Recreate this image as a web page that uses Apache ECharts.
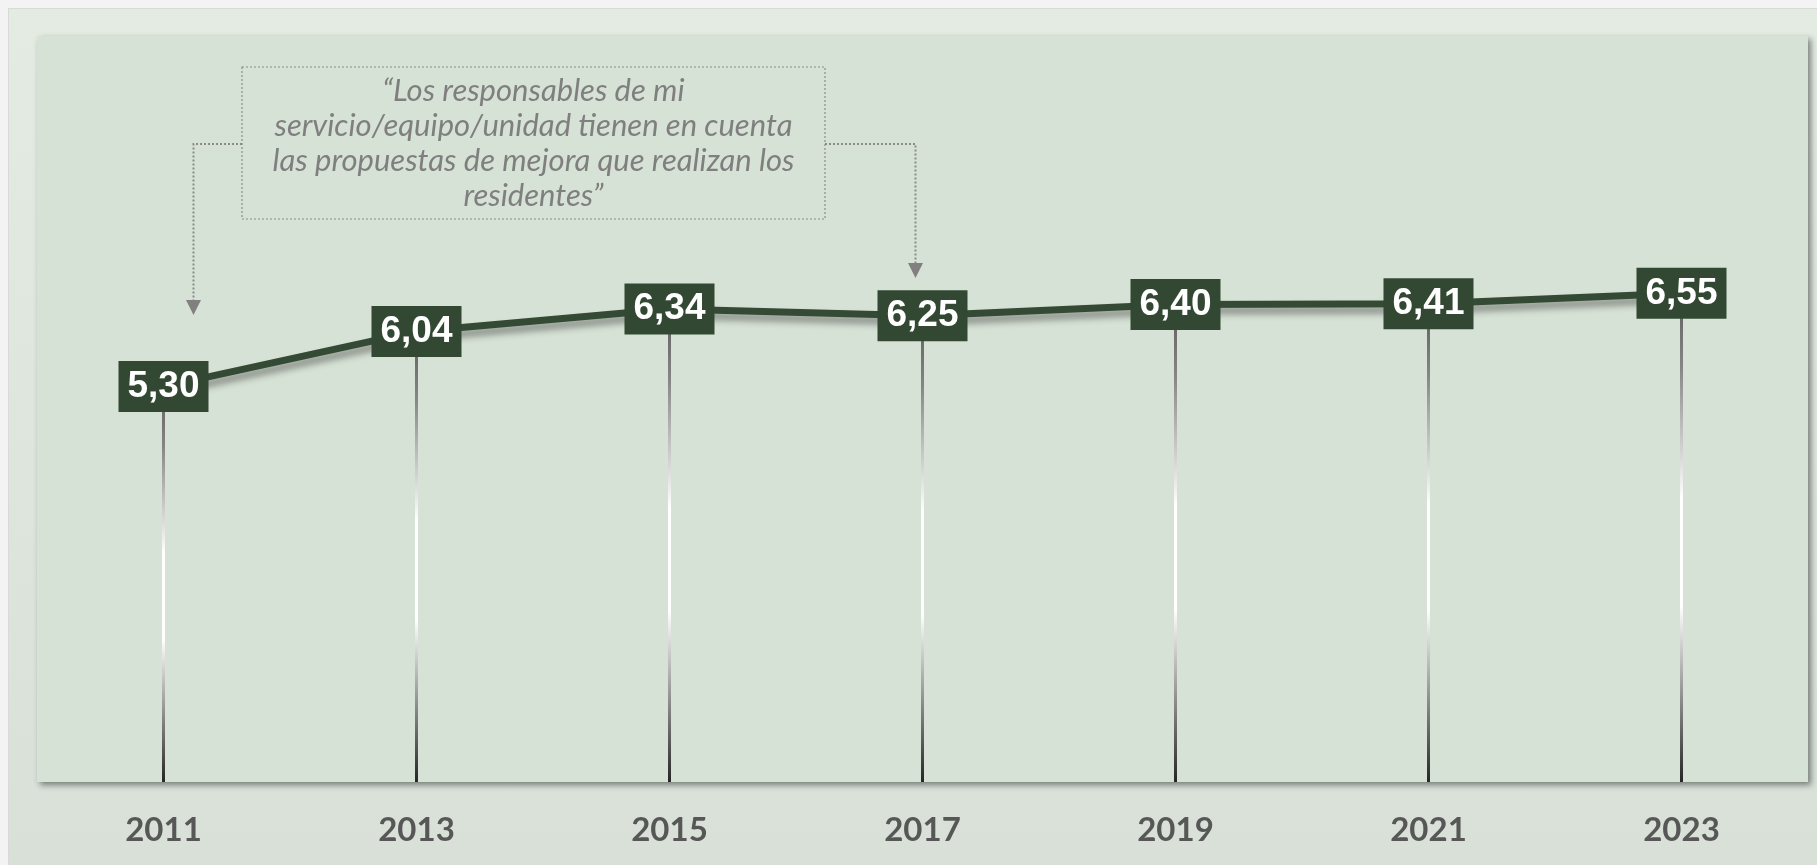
<!DOCTYPE html>
<html>
<head>
<meta charset="utf-8">
<script src="https://cdn.jsdelivr.net/npm/echarts@6/dist/echarts.min.js"></script>
<style>
  html, body { margin: 0; padding: 0; background: #f3f3f3; }
  #panel {
    position: absolute; left: 8px; top: 8px; width: 1809px; height: 857px;
    background: linear-gradient(#e3ebe3, #d8e0d8);
    border-left: 1px solid #d9d9d9; border-top: 1px solid #d9d9d9;
    box-sizing: border-box;
  }
  #main { position: absolute; left: 0; top: 0; width: 1817px; height: 865px; }
</style>
</head>
<body>
<div id="panel"></div>
<div id="main"></div>
<script>
const years = ['2011', '2013', '2015', '2017', '2019', '2021', '2023'];
const scores = [5.30, 6.04, 6.34, 6.25, 6.40, 6.41, 6.55];
const quote = [
    '\u201cLos responsables de mi',
    'servicio/equipo/unidad tienen en cuenta',
    'las propuestas de mejora que realizan los',
    'residentes\u201d'
];

const dark = '#334833';
const dotted = '#8a8a8a';

let myChart = echarts.init(document.getElementById('main'));
let option = {
    animation: false,
    grid: {
        left: 37,
        right: 9,
        top: 36,
        bottom: 83,
        show: true,
        backgroundColor: '#d7e2d6',
        borderWidth: 0,
        shadowColor: 'rgba(0,0,0,0.45)',
        shadowBlur: 6,
        shadowOffsetX: 3,
        shadowOffsetY: 3
    },
    xAxis: {
        type: 'category',
        data: years,
        axisLine: { show: false },
        axisTick: { show: false },
        axisLabel: {
            margin: 32,
            color: '#575757',
            fontFamily: 'Lato',
            fontWeight: 'bold',
            fontSize: 33
        }
    },
    yAxis: {
        type: 'value',
        min: 0,
        max: 10,
        show: false,
        splitLine: { show: false }
    },
    series: [
        {
            // drop lines
            type: 'bar',
            data: scores,
            barWidth: 3,
            silent: true,
            z: 1,
            itemStyle: {
                color: new echarts.graphic.LinearGradient(0, 0, 0, 1, [
                    { offset: 0, color: '#5e5e5e' },
                    { offset: 0.15, color: '#858585' },
                    { offset: 0.42, color: '#ffffff' },
                    { offset: 0.64, color: '#ffffff' },
                    { offset: 1, color: '#262626' }
                ])
            }
        },
        {
            type: 'line',
            data: scores,
            z: 3,
            symbol: 'rect',
            symbolSize: 2,
            itemStyle: { color: dark },
            lineStyle: {
                color: '#344a34',
                width: 7,
                shadowColor: 'rgba(0,0,0,0.4)',
                shadowBlur: 7,
                shadowOffsetX: 2,
                shadowOffsetY: 6
            },
            label: {
                show: true,
                position: 'inside',
                backgroundColor: dark,
                color: '#ffffff',
                fontFamily: 'Liberation Sans',
                fontWeight: 'bold',
                fontSize: 37,
                lineHeight: 38,
                padding: [7, 9, 6, 9],
                formatter: function (p) {
                    return p.value.toFixed(2).replace('.', ',');
                }
            }
        }
    ],
    graphic: [
        {
            type: 'rect',
            shape: { x: 242, y: 67, width: 583, height: 152 },
            style: { fill: 'none', stroke: dotted, lineWidth: 1.2, lineDash: [2, 2] },
            z: 10
        },
        {
            type: 'text',
            x: 533.5,
            y: 73,
            z: 10,
            style: {
                text: quote.join('\n'),
                align: 'center',
                verticalAlign: 'top',
                fill: '#7f7f7f',
                fontFamily: 'Lato',
                fontStyle: 'italic',
                fontSize: 31,
                lineHeight: 35
            }
        },
        {
            type: 'polyline',
            shape: { points: [[242, 144], [193.5, 144], [193.5, 301]] },
            style: { fill: 'none', stroke: dotted, lineWidth: 2, lineDash: [2, 2] },
            z: 10
        },
        {
            type: 'polygon',
            shape: { points: [[186, 300], [201, 300], [193.5, 315]] },
            style: { fill: '#808080' },
            z: 10
        },
        {
            type: 'polyline',
            shape: { points: [[825, 144], [915.5, 144], [915.5, 264]] },
            style: { fill: 'none', stroke: dotted, lineWidth: 2, lineDash: [2, 2] },
            z: 10
        },
        {
            type: 'polygon',
            shape: { points: [[908, 263], [923, 263], [915.5, 278]] },
            style: { fill: '#808080' },
            z: 10
        }
    ]
};
myChart.setOption(option);

window.addEventListener('resize', function () {
    myChart.resize();
});
</script>
</body>
</html>
